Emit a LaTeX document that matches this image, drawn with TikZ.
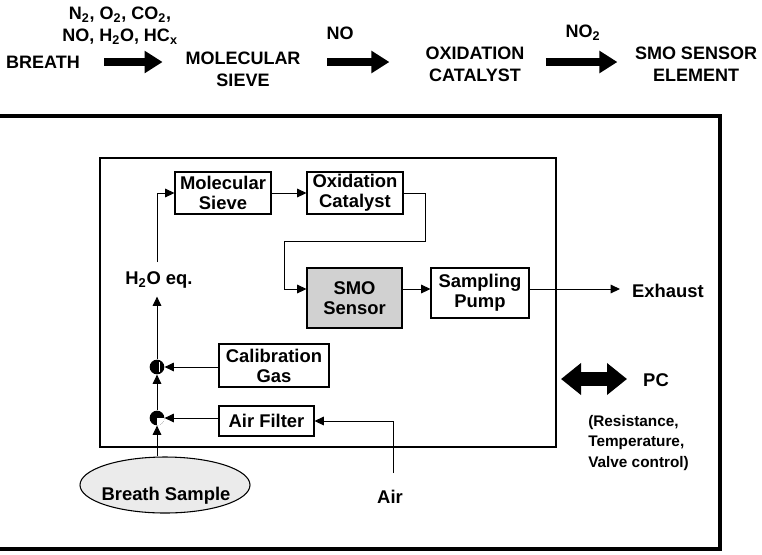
\documentclass[tikz,border=0pt]{standalone}
\usepackage{fontspec}
\setmainfont{Liberation Sans}
\usetikzlibrary{arrows.meta,shapes.geometric,calc}
\begin{document}
\begin{tikzpicture}[x=0.75pt,y=-0.75pt,
  box/.style={draw, line width=0.8pt, inner sep=0pt, align=center, font=\bfseries\fontsize{13.8}{15}\selectfont},
  lbl/.style={inner sep=0pt, align=center, font=\bfseries\fontsize{13.8}{15}\selectfont},
  toptxt/.style={inner sep=0pt, align=center, font=\bfseries\fontsize{13.5}{16.5}\selectfont},
  conn/.style={line width=0.75pt, -{Triangle[length=7pt,width=6.5pt]}},
  fat/.style={line width=6pt, -{Triangle[length=13.5pt,width=16pt]}},
  valve/.style={circle, minimum size=11pt, inner sep=0pt},
]
\useasboundingbox (0,0) rectangle (762,554);
\begin{scope}
\clip (0,0) rectangle (762,554);
\draw[line width=3.5pt] (-20,116) -- (720,116) -- (720,549) -- (-20,549);
\end{scope}
% inner box
\draw[line width=1.5pt] (100,158) rectangle (556,447);

% ---- top row ----
\node[toptxt] (br) at (43,62) {BREATH};
\node[toptxt] (gas) at (120,26) {N\textsubscript{2}, O\textsubscript{2}, CO\textsubscript{2},\\NO, H\textsubscript{2}O, HC\textsubscript{x}};
\node[toptxt] (msv) at (243,69) {MOLECULAR\\SIEVE};
\node[toptxt] (no) at (340,33) {NO};
\node[toptxt] (oxc) at (475,64) {OXIDATION\\CATALYST};
\node[toptxt] (no2) at (583,33) {NO\textsubscript{2}};
\node[toptxt] (sse) at (696,64) {SMO SENSOR\\ELEMENT};
\draw[fat, shorten <=18pt, shorten >=17pt] (br.east) -- (br.east -| msv.west);
\draw[fat, shorten <=20pt, shorten >=27pt] (msv.east |- br.east) -- (br.east -| oxc.west);
\draw[fat, shorten <=16pt, shorten >=13pt] (oxc.east |- br.east) -- (br.east -| sse.west);

% ---- inner diagram ----
\coordinate (flowy) at (0,289);
\node[box, minimum width=72pt, minimum height=31.5pt] (ms) at (223,193) {Molecular\\Sieve};
\node[box, minimum width=72pt, minimum height=31.5pt] (oc) at (355,193) {Oxidation\\Catalyst};
\node[box, minimum width=71.25pt, minimum height=45pt, fill=black!18] (smo) at (354.5,298) {SMO\\Sensor};
\node[box, minimum width=73.5pt, minimum height=37.5pt] (sp) at (480,293) {Sampling\\Pump};
\node[box, minimum width=82.5pt, minimum height=32.25pt] (cg) at (274,365.5) {Calibration\\Gas};
\node[box, minimum width=71.25pt, minimum height=22.5pt] (af) at (266.5,421) {Air Filter};
\node[lbl] (h2o) at (159,280) {H\textsubscript{2}O eq.};
\node[lbl] (exh) at (668,291) {Exhaust};
\node[draw, ellipse, line width=0.8pt, fill=black!8, minimum width=127.5pt, minimum height=42pt, inner sep=0pt] (bs) at (165,485) {};
\node[lbl] (bst) at (166,496) {Breath Sample};
\node[lbl] (air) at (390,497) {Air};
\coordinate (airst) at (393,473);

% valves
\node[valve] (v1) at (157,367) {};
\node[valve] (v2) at (157,418) {};
\fill (v1) circle[radius=5.5pt];
\draw[white, line width=1.2pt] ($(v1)+(2.5,-5)$) -- ($(v1)+(2.5,5)$);
\fill (v2) circle[radius=5.5pt];
\begin{scope}
\clip (v2) circle[radius=5.5pt];
\fill[white] (v2) rectangle ++(9,9);
\end{scope}

% connectors
\draw[conn] (ms.east) -- (oc.west);
\draw[conn] (oc.east) -| (425,241) -| (284,289) -- (smo.west |- flowy);
\draw[conn] (smo.east |- flowy) -- (sp.west |- flowy);
\draw[conn, shorten >=9pt] (sp.east |- flowy) -- (exh.west |- flowy);
\draw[conn, shorten >=6pt] (v1.north) -- (v1 |- h2o.south);
\draw[conn, shorten <=7pt] (v1 |- h2o.north) |- (ms.west);
\draw[conn] (v2.north) -- (v1.south);
\draw[conn] (cg.west |- v1) -- (v1.east);
\draw[conn] (af.west |- v2) -- (v2.east);
\draw[conn] (v2 |- bs.north) -- (v2.south);
\draw[conn] (airst) |- (af.east);

% PC
\coordinate (pcl) at (561,379);
\coordinate (pcr) at (627,379);
\draw[line width=11pt, {Triangle[length=15pt,width=23pt]}-{Triangle[length=15pt,width=23pt]}] (pcl) -- (pcr);
\node[lbl] (pc) at (656,380) {PC};
\node[inner sep=0pt, align=left, anchor=west, font=\bfseries\fontsize{11.5}{15.4}\selectfont] (res) at (588,443) {(Resistance,\\Temperature,\\Valve control)};
\end{tikzpicture}
\end{document}
